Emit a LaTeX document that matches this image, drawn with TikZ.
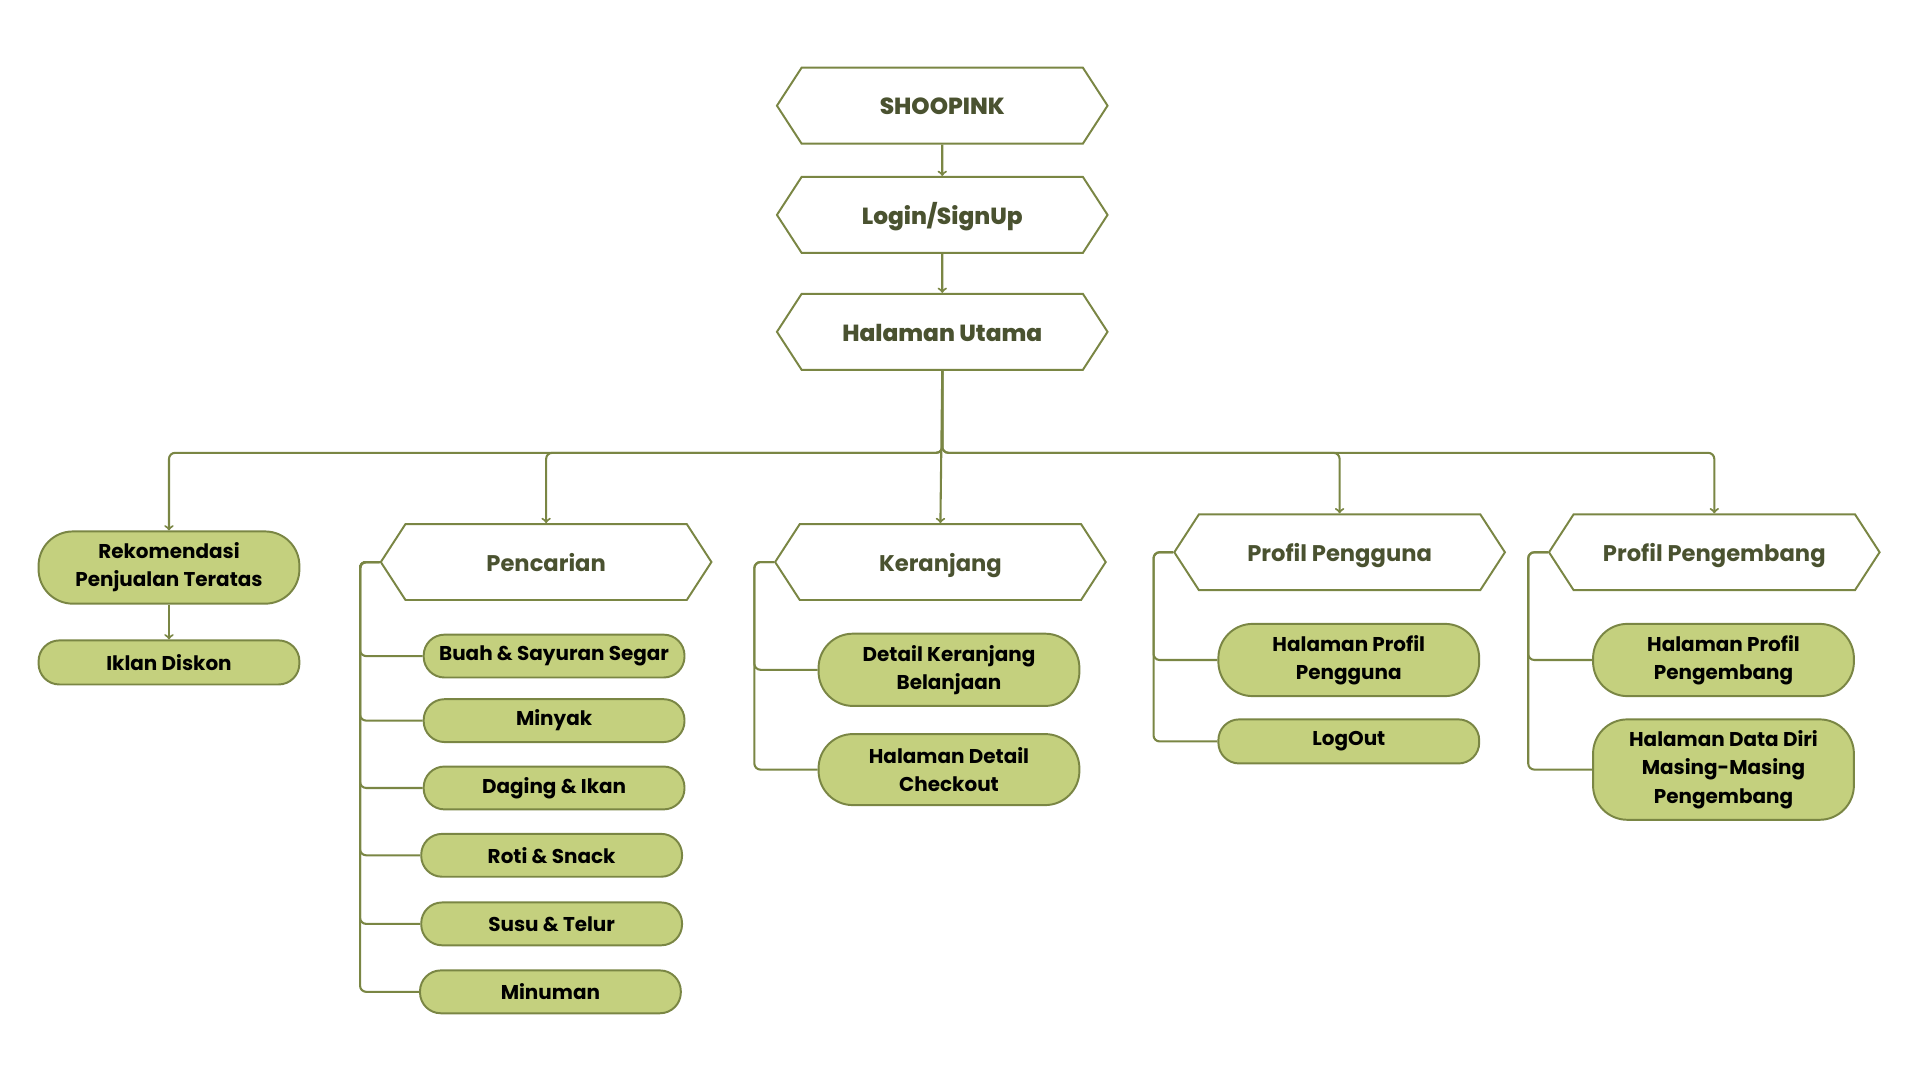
\documentclass[tikz,border=0pt]{standalone}
\usepackage{fontspec}
\setmainfont{Poppins}
\IfFontExistsTF{Poppins ExtraBold}{\newfontfamily\topfont{Poppins ExtraBold}}{\newcommand\topfont{\bfseries}}
\usepackage{tikz}
\usetikzlibrary{shapes.symbols, arrows, positioning}

\definecolor{oliveline}{HTML}{7A8644}
\definecolor{leaffill}{HTML}{C4D07E}
\definecolor{headtext}{HTML}{4A5230}

\begin{document}
\begin{tikzpicture}[x=1pt, y=-1pt,
  hexa/.style={signal, signal to=east and west, signal pointer angle=114, draw=oliveline, line width=1.6pt, fill=white, minimum width=270pt, minimum height=62pt, inner sep=0pt, text height=15pt, text depth=0pt, font=\fontsize{18.5}{22}\selectfont\bfseries, text=headtext},
  tophexa/.style={hexa, font=\fontsize{19}{22}\selectfont\topfont},
  leaf/.style={rectangle, rounded corners=#1, draw=oliveline, line width=1.6pt, fill=leaffill, minimum width=213pt, minimum height=36pt, inner sep=0pt, align=center, font=\fontsize{16.3}{23}\selectfont\bfseries, text=black},
  leaf/.default=17pt,
  link/.style={draw=oliveline, line width=1.7pt, rounded corners=5pt},
  arrowlink/.style={link, ->}]
\useasboundingbox (0,0) rectangle (1568,882);

% top of the tree
\node (shoopink) [tophexa] at (769.5,86.3) {SHOOPINK};
\node (login) [tophexa] at (769.5,175.5) {Login/SignUp};
\node (utama) [tophexa] at (769.5,271) {Halaman Utama};
\coordinate (bus) at ([yshift=-67pt]utama.south);

% menu level
\node (rekom) [leaf=28pt, minimum height=59pt] at (138,463.5) {Rekomendasi\\Penjualan Teratas};
\node (cari) [hexa] at (446,459) {Pencarian};
\node (keranjang) [hexa] at (768,459) {Keranjang};
\node (pengguna) [hexa] at (1094,451) {Profil Pengguna};
\node (pengembang) [hexa] at (1400,451) {Profil Pengembang};

% leaves
\node (iklan) [leaf] at (138,541) {Iklan Diskon};
\node (buah) [leaf, minimum height=35pt] at (452.5,535.8) {Buah \& Sayuran Segar};
\node (minyak) [leaf, minimum height=35pt] at (452.5,588.5) {Minyak};
\node (daging) [leaf, minimum height=35pt] at (452.5,643.5) {Daging \& Ikan};
\node (roti) [leaf, minimum height=35pt] at (450.5,698.5) {Roti \& Snack};
\node (susu) [leaf, minimum height=35pt] at (450.5,754.5) {Susu \& Telur};
\node (minuman) [leaf, minimum height=35pt] at (449.5,810) {Minuman};
\node (detailker) [leaf=28pt, minimum height=59pt] at (775,547) {Detail Keranjang\\Belanjaan};
\node (checkout) [leaf=28pt, minimum height=58pt] at (775,628.5) {Halaman Detail\\Checkout};
\node (profiluser) [leaf=28pt, minimum height=59pt] at (1101.5,539) {Halaman Profil\\Pengguna};
\node (logout) [leaf] at (1101.5,605.5) {LogOut};
\node (profildev) [leaf=28pt, minimum height=59pt] at (1407.5,539) {Halaman Profil\\Pengembang};
\node (datadiri) [leaf=28pt, minimum height=82pt] at (1407.5,628.5) {Halaman Data Diri\\Masing-Masing\\Pengembang};

% connectors
\draw[arrowlink] (shoopink) -- (login);
\draw[arrowlink] (login) -- (utama);
\foreach \t in {rekom, cari, pengguna, pengembang}
  \draw[arrowlink] (utama.south) -- (bus) -| (\t.north);
\draw[arrowlink] (utama.south) -- (keranjang.north);
\draw[arrowlink] (rekom) -- (iklan);
\foreach \c in {buah, minyak, daging, roti, susu, minuman}
  \draw[link] (cari.west) -- ++(-16,0) |- (\c.west);
\foreach \c in {detailker, checkout}
  \draw[link] (keranjang.west) -- ++(-16,0) |- (\c.west);
\foreach \c in {profiluser, logout}
  \draw[link] (pengguna.west) -- ++(-16,0) |- (\c.west);
\foreach \c in {profildev, datadiri}
  \draw[link] (pengembang.west) -- ++(-16,0) |- (\c.west);
\end{tikzpicture}
\end{document}
